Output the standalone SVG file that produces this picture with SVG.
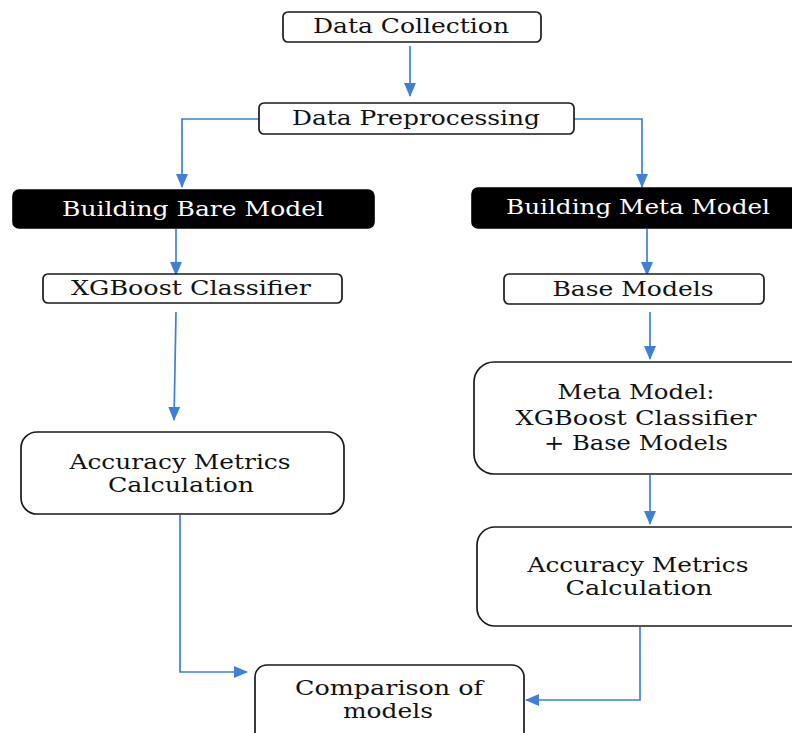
<svg xmlns="http://www.w3.org/2000/svg" width="792" height="733" viewBox="0 0 792 733">
<defs>
<style>
.box{fill:#fff;stroke:#1a1a1a;stroke-width:1.7}
.dark{fill:#000;stroke:#000;stroke-width:1.6}
.t{font-family:"DejaVu Serif","Liberation Serif",serif;font-size:20px;fill:#111;text-anchor:middle}
.w{fill:#fff}
.c{fill:none;stroke:#3f80d6;stroke-width:1.7}
</style>
<marker id="ah" viewBox="0 0 14 14" refX="13" refY="7" markerWidth="14" markerHeight="14" markerUnits="userSpaceOnUse" orient="auto">
<path d="M0,1 L14,7 L0,13 z" fill="#3f80d6"/>
</marker>
</defs>
<rect width="792" height="733" fill="#fff"/>
<g id="connectors">
<path class="c" d="M410,46 V96" marker-end="url(#ah)"/>
<path class="c" d="M259,119 H182 V187" marker-end="url(#ah)"/>
<path class="c" d="M574,119 H642 V187" marker-end="url(#ah)"/>
<path class="c" d="M176,229 V275" marker-end="url(#ah)"/>
<path class="c" d="M647,229 V275" marker-end="url(#ah)"/>
<path class="c" d="M176,312 L174,420" marker-end="url(#ah)"/>
<path class="c" d="M650,312 V359" marker-end="url(#ah)"/>
<path class="c" d="M650,475 V524" marker-end="url(#ah)"/>
<path class="c" d="M180,515 V672 H247" marker-end="url(#ah)"/>
<path class="c" d="M640,627 V700 H526" marker-end="url(#ah)"/>
</g>
<g id="data-collection">
<rect class="box" x="283" y="12" width="258" height="30" rx="5"/>
<text class="t" x="411" y="33" textLength="196" lengthAdjust="spacingAndGlyphs">Data Collection</text>
</g>
<g id="data-preprocessing">
<rect class="box" x="259" y="103" width="315" height="31" rx="5"/>
<text class="t" x="416" y="125" textLength="248" lengthAdjust="spacingAndGlyphs">Data Preprocessing</text>
</g>
<g id="building-bare-model">
<rect class="dark" x="13" y="190" width="361" height="38" rx="6"/>
<text class="t w" x="193" y="216" textLength="262" lengthAdjust="spacingAndGlyphs">Building Bare Model</text>
</g>
<g id="building-meta-model">
<rect class="dark" x="472" y="188" width="330" height="40" rx="6"/>
<text class="t w" x="638" y="214" textLength="264" lengthAdjust="spacingAndGlyphs">Building Meta Model</text>
</g>
<g id="xgboost-classifier">
<rect class="box" x="43" y="274" width="299" height="29" rx="5"/>
<text class="t" x="191" y="295" textLength="240" lengthAdjust="spacingAndGlyphs">XGBoost Classifier</text>
</g>
<g id="base-models">
<rect class="box" x="504" y="274" width="260" height="30" rx="5"/>
<text class="t" x="633" y="296" textLength="161" lengthAdjust="spacingAndGlyphs">Base Models</text>
</g>
<g id="meta-model">
<rect class="box" x="474" y="362" width="340" height="112" rx="20"/>
<text class="t" x="636" y="399" textLength="157" lengthAdjust="spacingAndGlyphs">Meta Model:</text>
<text class="t" x="636" y="425" textLength="241" lengthAdjust="spacingAndGlyphs">XGBoost Classifier</text>
<text class="t" x="636" y="450" textLength="184" lengthAdjust="spacingAndGlyphs">+ Base Models</text>
</g>
<g id="accuracy-left">
<rect class="box" x="21" y="432" width="323" height="82" rx="16"/>
<text class="t" x="180" y="469" textLength="221" lengthAdjust="spacingAndGlyphs">Accuracy Metrics</text>
<text class="t" x="181" y="492" textLength="146" lengthAdjust="spacingAndGlyphs">Calculation</text>
</g>
<g id="accuracy-right">
<rect class="box" x="477" y="527" width="340" height="99" rx="18"/>
<text class="t" x="638" y="572" textLength="221" lengthAdjust="spacingAndGlyphs">Accuracy Metrics</text>
<text class="t" x="639" y="595" textLength="147" lengthAdjust="spacingAndGlyphs">Calculation</text>
</g>
<g id="comparison">
<rect class="box" x="255" y="665" width="269" height="85" rx="12"/>
<text class="t" x="389" y="695" textLength="188" lengthAdjust="spacingAndGlyphs">Comparison of</text>
<text class="t" x="388" y="718" textLength="90" lengthAdjust="spacingAndGlyphs">models</text>
</g>
</svg>
